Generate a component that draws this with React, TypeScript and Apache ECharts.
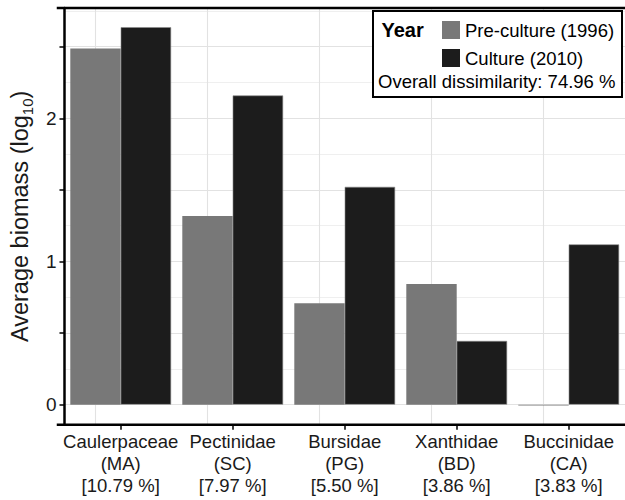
import React, { useEffect, useRef } from 'react';
import * as echarts from 'echarts';

const families = ['Caulerpaceae', 'Pectinidae', 'Bursidae', 'Xanthidae', 'Buccinidae'];
const codes = ['MA', 'SC', 'PG', 'BD', 'CA'];
const contributions = [10.79, 7.97, 5.5, 3.86, 3.83];
const seriesNames = ['Pre-culture (1996)', 'Culture (2010)'];
const preCulture = [2.488, 1.317, 0.708, 0.842, -0.006];
const culture = [2.636, 2.159, 1.521, 0.445, 1.119];
const yLabelValues = [0, 1, 2];
const dissimilarity = 74.96;

const FONT = '"Liberation Sans", Arial, Helvetica, sans-serif';
const Y_MIN = -0.14;
const Y_MAX = 2.77;

export default function App() {
  const ref = useRef<HTMLDivElement>(null);
  useEffect(() => {
    if (!ref.current) return;
    const chart = echarts.init(ref.current, null, { renderer: 'svg' });
    const option: any = {
      animation: false,
      backgroundColor: '#ffffff',
      textStyle: { fontFamily: FONT },
      grid: [
        { left: 58, top: 8, width: 640, height: 416.7 },
        { left: 64.7, top: 8, width: 560, height: 416.7 },
      ],
      xAxis: [
        { type: 'value', gridIndex: 0, min: 0, max: 1, show: false },
        {
          type: 'category',
          gridIndex: 1,
          data: families,
          axisLine: { show: false, onZero: false },
          axisTick: { show: true, alignWithLabel: true, length: 5, lineStyle: { color: '#000', width: 1.5 } },
          axisLabel: {
            interval: 0,
            margin: 6,
            fontSize: 18.5,
            lineHeight: 22,
            color: '#1a1a1a',
            fontFamily: FONT,
            formatter: (v: string, i: number) =>
              `${v}\n(${codes[i]})\n[${contributions[i].toFixed(2)} %]`,
          },
          splitLine: { show: false },
        },
      ],
      yAxis: [
        {
          type: 'value',
          gridIndex: 0,
          min: Y_MIN,
          max: Y_MAX,
          minInterval: 0.5,
          maxInterval: 0.5,
          axisLine: { show: true, onZero: false, lineStyle: { color: '#000', width: 2.5 } },
          axisTick: { show: true, length: 5, lineStyle: { color: '#000', width: 1.5 } },
          axisLabel: {
            margin: 8,
            fontSize: 19,
            color: '#1a1a1a',
            fontFamily: FONT,
            formatter: (v: number) => {
              const r = Math.round(v);
              return Math.abs(v - r) < 1e-6 && yLabelValues.includes(r) ? String(r) : '';
            },
          },
          splitLine: { show: true, lineStyle: { color: '#e2e2e2', width: 1.1 } },
          minorTick: { show: false, splitNumber: 2 },
          minorSplitLine: { show: true, lineStyle: { color: '#ebebeb', width: 0.8 } },
          name: '{a|Average biomass (log}{sub|10}{a|)}',
          nameLocation: 'middle',
          nameGap: 24,
          nameTextStyle: {
            color: '#1a1a1a',
            fontFamily: FONT,
            rich: {
              a: { fontSize: 23.5, lineHeight: 23.5, verticalAlign: 'top', fontFamily: FONT, color: '#1a1a1a' },
              sub: { fontSize: 15, lineHeight: 15, verticalAlign: 'top', padding: [12, 0, 0, 0], fontFamily: FONT, color: '#1a1a1a' },
            },
          },
        },
        { type: 'value', gridIndex: 1, min: Y_MIN, max: Y_MAX, show: false },
      ],
      legend: {
        data: seriesNames,
        orient: 'vertical',
        left: 442,
        top: 20.5,
        padding: 0,
        itemWidth: 18,
        itemHeight: 18,
        itemGap: 9,
        icon: 'rect',
        selectedMode: false,
        itemStyle: { borderWidth: 0 },
        textStyle: { fontSize: 18.5, color: '#000', fontFamily: FONT },
        z: 200,
      },
      series: [
        {
          type: 'bar',
          name: seriesNames[0],
          xAxisIndex: 1,
          yAxisIndex: 1,
          data: preCulture,
          barGap: '0%',
          barCategoryGap: '10%',
          z: 3,
          itemStyle: { color: '#787878' },
          markLine: {
            silent: true,
            z: 1,
            symbol: ['none', 'none'],
            label: { show: false },
            lineStyle: { color: '#e2e2e2', width: 1.1, type: 'solid' },
            data: families.map((f) => ({ xAxis: f })),
          },
        },
        {
          type: 'bar',
          name: seriesNames[1],
          xAxisIndex: 1,
          yAxisIndex: 1,
          data: culture,
          barGap: '0%',
          barCategoryGap: '10%',
          z: 3,
          itemStyle: { color: '#1c1c1c', borderColor: '#8a8a8a', borderWidth: 0.6 },
        },
      ],
      graphic: [
        {
          type: 'line',
          silent: true,
          z: 100,
          shape: { x1: 56.75, y1: 8, x2: 700, y2: 8 },
          style: { stroke: '#000', lineWidth: 2.5 },
        },
        {
          type: 'line',
          silent: true,
          z: 100,
          shape: { x1: 56.75, y1: 424.7, x2: 700, y2: 424.7 },
          style: { stroke: '#000', lineWidth: 2.5 },
        },
        {
          type: 'rect',
          silent: true,
          z: 101,
          shape: { x: 373, y: 11, width: 249, height: 86 },
          style: { fill: '#fff', stroke: '#000', lineWidth: 2 },
        },
        {
          type: 'text',
          silent: true,
          z: 102,
          x: 381.5,
          y: 29.5,
          style: { text: 'Year', fontSize: 20, fontWeight: 'bold', fontFamily: FONT, fill: '#000', verticalAlign: 'middle' },
        },
        {
          type: 'text',
          silent: true,
          z: 102,
          x: 378,
          y: 81.5,
          style: {
            text: `Overall dissimilarity: ${dissimilarity.toFixed(2)} %`,
            fontSize: 18.5,
            fontFamily: FONT,
            fill: '#000',
            verticalAlign: 'middle',
          },
        },
      ],
    };
    chart.setOption(option);
    return () => chart.dispose();
  }, []);
  return (
    <div
      ref={ref}
      style={{ position: 'fixed', left: 0, top: 0, width: 625, height: 500, background: '#fff' }}
    />
  );
}
